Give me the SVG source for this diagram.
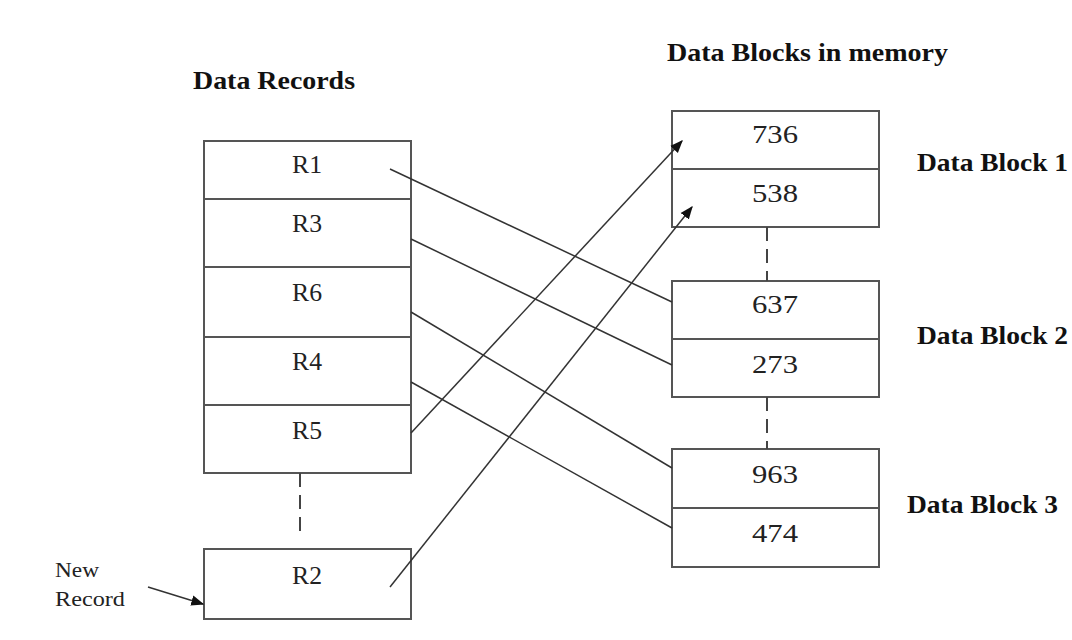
<svg xmlns="http://www.w3.org/2000/svg" width="1072" height="640" viewBox="0 0 1072 640">
<defs>
<style>
.box{fill:#fff;stroke:#555;stroke-width:2}
.div{stroke:#555;stroke-width:2}
.lbl{font-family:"Liberation Serif",serif;font-size:26px;fill:#222;text-anchor:middle}
.ttl{font-family:"Liberation Serif",serif;font-size:25px;font-weight:bold;fill:#111}
.sm{font-family:"Liberation Serif",serif;font-size:20px;fill:#222}
.con{stroke:#333;stroke-width:1.5;fill:none}
.dash{stroke:#444;stroke-width:2;stroke-dasharray:14,8;fill:none}
</style>
<marker id="ahb" viewBox="0 0 10 10" refX="9" refY="5" markerWidth="13" markerHeight="13" markerUnits="userSpaceOnUse" orient="auto">
<path d="M0,1 L10,5 L0,9 z" fill="#111"/>
</marker>
</defs>
<rect width="1072" height="640" fill="#fff"/>
<text class="ttl" x="193" y="89" textLength="162" lengthAdjust="spacingAndGlyphs">Data Records</text>
<text class="ttl" x="667" y="61" textLength="281" lengthAdjust="spacingAndGlyphs">Data Blocks in memory</text>
<g id="records">
<rect class="box" x="204" y="141" width="207" height="332"/>
<line class="div" x1="204" y1="199" x2="411" y2="199"/>
<line class="div" x1="204" y1="267" x2="411" y2="267"/>
<line class="div" x1="204" y1="337" x2="411" y2="337"/>
<line class="div" x1="203" y1="405" x2="411" y2="405"/>
</g>
<g id="r1"><text class="lbl" x="307" y="173" textLength="30" lengthAdjust="spacingAndGlyphs">R1</text></g>
<g id="r3"><text class="lbl" x="307" y="232" textLength="30" lengthAdjust="spacingAndGlyphs">R3</text></g>
<g id="r6"><text class="lbl" x="307" y="301" textLength="30" lengthAdjust="spacingAndGlyphs">R6</text></g>
<g id="r4"><text class="lbl" x="307" y="370" textLength="30" lengthAdjust="spacingAndGlyphs">R4</text></g>
<g id="r5"><text class="lbl" x="307" y="439" textLength="30" lengthAdjust="spacingAndGlyphs">R5</text></g>
<g id="r2"><rect class="box" x="204" y="549" width="207" height="70"/><text class="lbl" x="307" y="584" textLength="30" lengthAdjust="spacingAndGlyphs">R2</text></g>
<g id="newrec"><text class="sm" x="55" y="577" textLength="44" lengthAdjust="spacingAndGlyphs">New</text><text class="sm" x="55" y="606" textLength="70" lengthAdjust="spacingAndGlyphs">Record</text></g>
<g id="block1">
<rect class="box" x="672" y="111" width="207" height="116"/>
<line class="div" x1="672" y1="169" x2="879" y2="169"/>
<text class="lbl" x="775" y="143" textLength="46" lengthAdjust="spacingAndGlyphs">736</text>
<text class="lbl" x="775" y="202" textLength="46" lengthAdjust="spacingAndGlyphs">538</text>
<text class="ttl" x="917" y="171" textLength="151" lengthAdjust="spacingAndGlyphs">Data Block 1</text>
</g>
<g id="block2">
<rect class="box" x="672" y="281" width="207" height="116"/>
<line class="div" x1="672" y1="339" x2="879" y2="339"/>
<text class="lbl" x="775" y="313" textLength="46" lengthAdjust="spacingAndGlyphs">637</text>
<text class="lbl" x="775" y="373" textLength="46" lengthAdjust="spacingAndGlyphs">273</text>
<text class="ttl" x="917" y="344" textLength="151" lengthAdjust="spacingAndGlyphs">Data Block 2</text>
</g>
<g id="block3">
<rect class="box" x="672" y="449" width="207" height="118"/>
<line class="div" x1="672" y1="508" x2="879" y2="508"/>
<text class="lbl" x="775" y="483" textLength="46" lengthAdjust="spacingAndGlyphs">963</text>
<text class="lbl" x="775" y="542" textLength="46" lengthAdjust="spacingAndGlyphs">474</text>
<text class="ttl" x="907" y="513" textLength="151" lengthAdjust="spacingAndGlyphs">Data Block 3</text>
</g>
<g id="connectors">
<line class="dash" x1="300" y1="473" x2="300" y2="537"/>
<line class="dash" x1="767" y1="227" x2="767" y2="281"/>
<line class="dash" x1="767" y1="397" x2="767" y2="449"/>
<line class="con" x1="390" y1="169" x2="672" y2="302"/>
<line class="con" x1="411" y1="239" x2="672" y2="365"/>
<line class="con" x1="411" y1="312" x2="672" y2="468"/>
<line class="con" x1="411" y1="382" x2="672" y2="528"/>
<line class="con" x1="411" y1="433" x2="682" y2="141" marker-end="url(#ahb)"/>
<line class="con" x1="390" y1="587" x2="692" y2="207" marker-end="url(#ahb)"/>
<line class="con" x1="148" y1="587" x2="203" y2="604" marker-end="url(#ahb)"/>
</g>
</svg>
